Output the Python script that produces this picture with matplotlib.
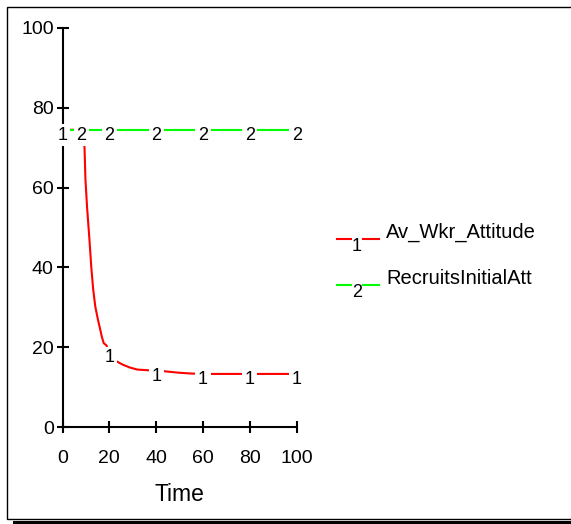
import numpy as np
import matplotlib
matplotlib.use("Agg")
import matplotlib.pyplot as plt
from matplotlib.lines import Line2D
from matplotlib.patches import Rectangle

plt.rcParams['font.family'] = ['Liberation Sans', 'DejaVu Sans']

# data (Vensim-style run, time 0..100)
time_att = [0, 9.0, 9.4, 9.8, 10.5, 11.0, 11.5, 12.3, 13.1, 14.0, 15.1, 16.0, 16.8,
            17.6, 18.7, 20.0, 21.5, 23.0, 24.8, 26.2, 28.8, 31.9, 37.0, 43.0, 49.7,
            55.0, 60.0, 70.0, 80.0, 90.0, 100.0]
av_wkr_attitude = [74.5, 74.5, 70.0, 62.0, 55.0, 51.0, 47.0, 40.0, 34.5, 30.2, 27.0, 24.7,
                   22.6, 21.0, 20.5, 18.8, 17.4, 16.5, 15.9, 15.5, 14.9, 14.4, 14.2, 14.0,
                   13.6, 13.4, 13.3, 13.3, 13.3, 13.3, 13.3]
time_rec = [0, 100]
recruits_initial_att = [74.5, 74.5]

labels_1_t = [0, 20, 40, 60, 80, 100]
labels_2_t = [8, 20, 40, 60, 80, 100]

x_ticks = [0, 20, 40, 60, 80, 100]
y_ticks = [0, 20, 40, 60, 80, 100]
series_names = ['Av_Wkr_Attitude', 'RecruitsInitialAtt']

W, H = 571, 524
fig = plt.figure(figsize=(W / 100, H / 100), dpi=100)
ax = fig.add_axes([62.5 / W, (H - 427) / H, 234.2 / W, 399 / H])

ax.plot(time_att, av_wkr_attitude, color='#ff0000', lw=1.5, zorder=2)
ax.plot(time_rec, recruits_initial_att, color='#00ff00', lw=1.5, zorder=2)

box = dict(facecolor='white', edgecolor='none', pad=1.8)
for t in labels_1_t:
    v = np.interp(t, time_att, av_wkr_attitude)
    ax.annotate('1', (t, v), xytext=(0, -4), textcoords='offset points',
                ha='center', va='center', fontsize=13, bbox=box, zorder=5,
                annotation_clip=False)
for t in labels_2_t:
    v = np.interp(t, time_rec, recruits_initial_att)
    ax.annotate('2', (t, v), xytext=(0, -4), textcoords='offset points',
                ha='center', va='center', fontsize=13, bbox=box, zorder=5,
                annotation_clip=False)

ax.set_xlim(0, 100)
ax.set_ylim(0, 100)
ax.set_xticks(x_ticks)
ax.set_yticks(y_ticks)
for s in ['top', 'right']:
    ax.spines[s].set_visible(False)
for s in ['left', 'bottom']:
    ax.spines[s].set_linewidth(1.5)
ax.tick_params(axis='both', direction='inout', length=8.6, width=1.5, labelsize=14)
ax.tick_params(axis='y', pad=2)
ax.tick_params(axis='x', pad=12.5)
ax.set_xlabel('Time', fontsize=16.5, labelpad=11)

# legend drawn by hand, Vensim style
def px(x, y):
    return x / W, 1 - y / H

colors = ['#ff0000', '#00ff00']
for i, (name, c) in enumerate(zip(series_names, colors)):
    yl = 239.3 + i * 45.4
    for x0, x1 in [(336.5, 350.5), (363, 379)]:
        (a, b), (c2, d) = px(x0, yl), px(x1, yl)
        fig.add_artist(Line2D([a, c2], [b, d], color=c, lw=1.5))
    fig.text(*px(357, yl + 7.5), str(i + 1), ha='center', va='center', fontsize=13)
    fig.text(*px(386, yl - 6.5), name, ha='left', va='center', fontsize=14.5)

# outer frame with shadow
fig.add_artist(Rectangle(px(7, 519), 1.2, (519 - 7) / H, transform=fig.transFigure,
                         fill=False, edgecolor='black', lw=1.0))
(a, b), (c2, d) = px(14, 521.5), px(571, 521.5)
fig.add_artist(Line2D([a, c2], [b, d], color='black', lw=2.2))

fig.savefig('out.png', dpi=100)
